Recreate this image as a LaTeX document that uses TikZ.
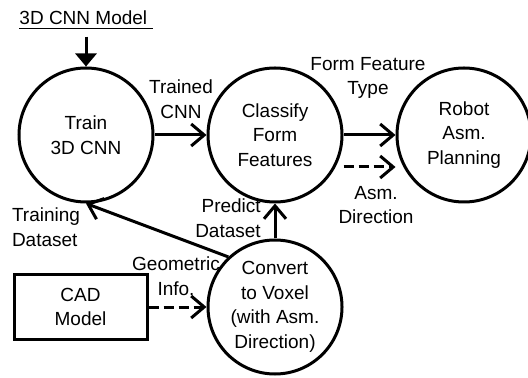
\documentclass[tikz,border=0pt]{standalone}
\usepackage{fontspec}
\setmainfont{Liberation Sans}
\usetikzlibrary{positioning, arrows.meta}

\begin{document}
\begin{tikzpicture}[x=0.5pt, y=-0.5pt,
  font=\fontsize{9.5}{12.3}\selectfont, line width=1.5pt,
  stage/.style={circle, draw, minimum size=67pt, inner sep=0pt, align=center},
  store/.style={rectangle, draw, minimum width=66.5pt, minimum height=32pt, align=center},
  lbl/.style={align=center, inner sep=0pt},
  flow/.style={-{Straight Barb[length=6.5pt, width=11pt]}},
  hint/.style={flow, dash pattern=on 5pt off 2.5pt}]
\useasboundingbox (0,0) rectangle (528,378);
\node[inner sep=0pt, anchor=base] (model) at (86,25) {\underline{3D CNN Model\ }};
\node[stage] (train) at (86,135) {Train\\3D CNN};
\node[stage] (classify) at (275,135) {Classify\\Form\\Features};
\node[stage] (robot) at (464,135) {Robot\\Asm.\\Planning};
\node[stage] (convert) at (275,307) {Convert\\to Voxel\\(with Asm.\\Direction)};
\node[store] (cad) at (80.5,307) {CAD\\Model};
\node[lbl] (trained) at (181,99) {Trained\\CNN};
\node[lbl] (formtype) at (368,78) {Form Feature\\Type};
\node[lbl] (asmdir) at (376,205) {Asm.\\Direction};
\node[lbl, align=right] (predict) at (228,218) {Predict\\Dataset};
\node[lbl, align=left] (training) at (46,227) {Training\\Dataset};
\node[lbl] (geoinfo) at (176,276) {Geometric\\Info.};
\draw[-{Triangle[length=6.5pt, width=10.5pt]}, shorten <=3pt] (model.south) -- (train);
\draw[flow] (train) -- (classify);
\draw[flow] (classify) -- (robot);
\draw[hint] ([yshift=-16pt]classify.east) -- ([yshift=-16pt]robot.west);
\draw[flow] (convert) -- (classify);
\draw[flow] (convert.133) -- (train.south);
\draw[hint] (cad) -- (convert);
\end{tikzpicture}
\end{document}
